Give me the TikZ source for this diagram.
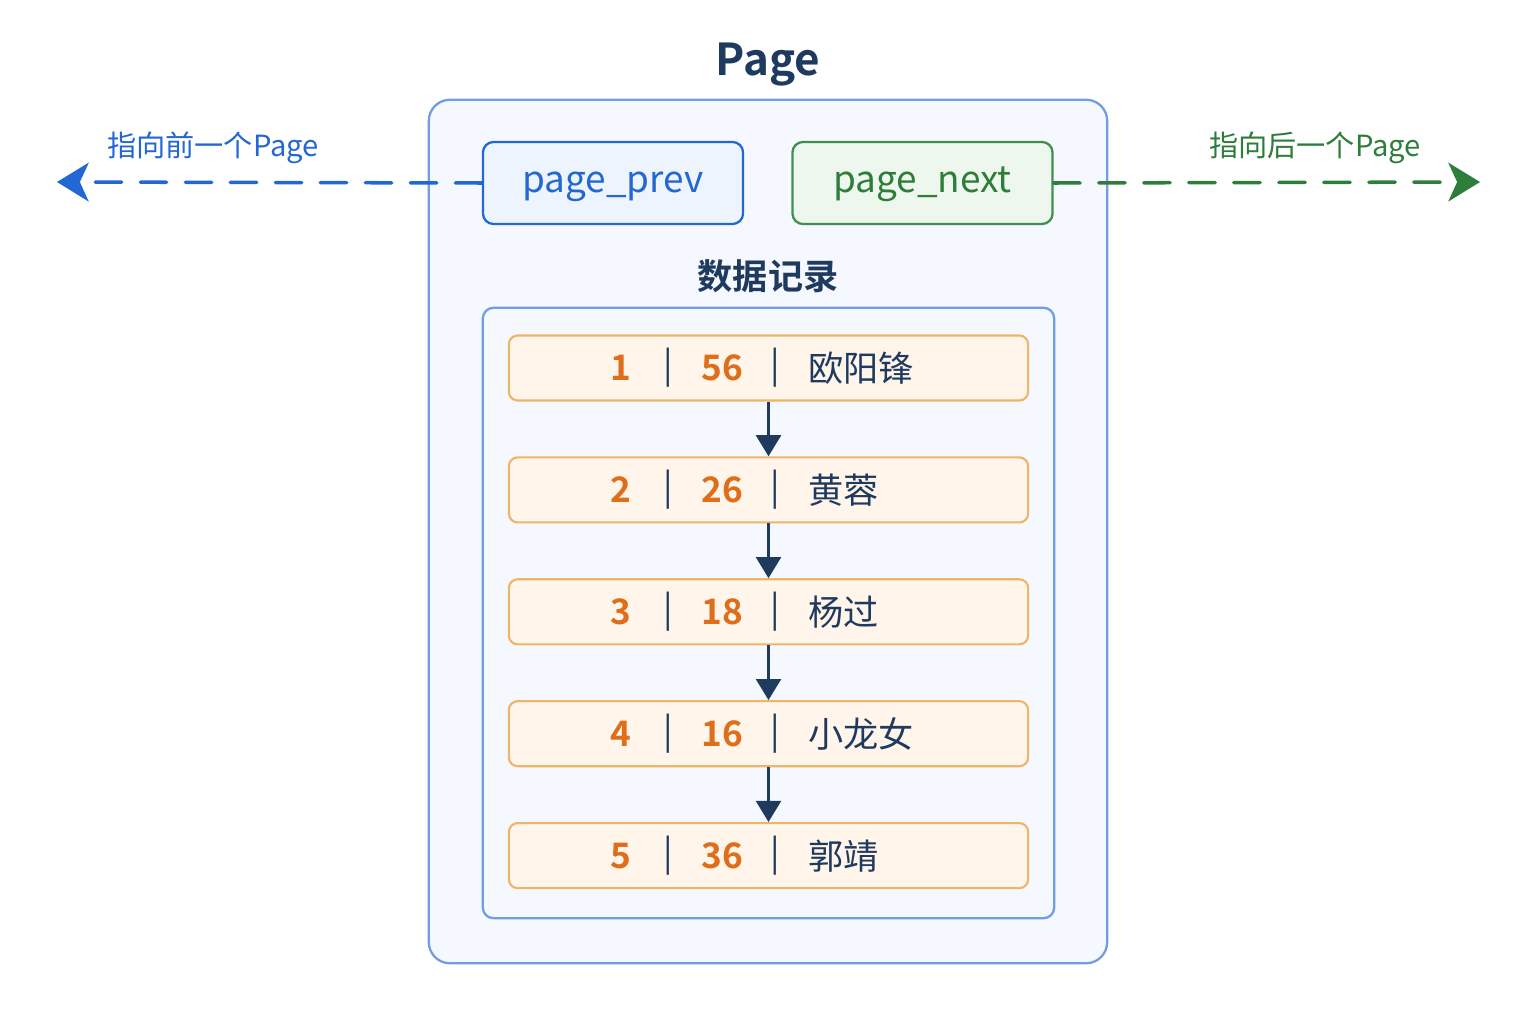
\documentclass[tikz,border=0pt]{standalone}
\usepackage{fontspec}
\setmainfont{Noto Sans CJK SC}[BoldFont={Noto Sans CJK SC Bold}]
\usetikzlibrary{arrows.meta}
\definecolor{navy}{HTML}{1F3A5F}
\definecolor{pageline}{HTML}{729DE0}
\definecolor{pagefill}{HTML}{F5F8FE}
\definecolor{prevblue}{HTML}{2368D2}
\definecolor{prevfill}{HTML}{EEF4FD}
\definecolor{nextgreen}{HTML}{2E7D3A}
\definecolor{nextline}{HTML}{3F8F4F}
\definecolor{nextfill}{HTML}{EEF7EE}
\definecolor{rowline}{HTML}{F0B466}
\definecolor{rowfill}{HTML}{FFF5EA}
\definecolor{numorange}{HTML}{DE6E1A}

\begin{document}
\begin{tikzpicture}[x=0.01cm,y=-0.01cm,
  pagebox/.style={draw=pageline,fill=pagefill,line width=0.65pt,rounded corners=3pt},
  ptrbox/.style={line width=0.65pt,rounded corners=3pt,minimum width=2.6cm,minimum height=0.82cm,text height=1ex,text depth=0pt,font=\fontsize{10.5}{12}\selectfont},
  rowbox/.style={draw=rowline,fill=rowfill,line width=0.6pt,rounded corners=2.5pt,minimum width=5.19cm,minimum height=0.65cm},
  numtxt/.style={text=numorange,font=\bfseries\fontsize{10}{12}\selectfont},
  bartxt/.style={text=navy,font=\fontsize{10}{12}\selectfont},
  nametxt/.style={text=navy,anchor=west,font=\fontsize{10}{12}\selectfont},
  flow/.style={navy,line width=1pt,-{Triangle[width=7pt,length=6pt]}},
  linkarrow/.style={line width=1pt,line cap=round,dash pattern=on 7.5pt off 5.3pt,-{Stealth[width=11pt,length=9pt,inset=2.5pt]}}]
\useasboundingbox (0,0) rectangle (1536,1024);

% the page and its title
\node[text=navy,font=\bfseries\fontsize{12.5}{14}\selectfont] (title) at (768,65) {Page};
\node[pagebox,rounded corners=6pt,minimum width=6.78cm,minimum height=8.63cm] (page) at (768,531.5) {};

% pointers to the neighbour pages
\node[ptrbox,draw=prevblue,fill=prevfill,text=prevblue] (prev) at (613,183) {page\_prev};
\node[ptrbox,draw=nextline,fill=nextfill,text=nextgreen] (next) at (922.5,183) {page\_next};
\coordinate (prevend) at (57,182);
\coordinate (nextend) at (1480,182);
\draw[linkarrow,prevblue] (prev.west) -- (prevend);
\draw[linkarrow,nextgreen] (next.east) -- (nextend);
\node[text=prevblue,font=\fontsize{8.3}{10}\selectfont] (prevlabel) at (213,148) {指向前一个Page};
\node[text=nextgreen,font=\fontsize{8.3}{10}\selectfont] (nextlabel) at (1315,148) {指向后一个Page};

% the records
\node[text=navy,font=\bfseries\fontsize{10}{12}\selectfont] (datatitle) at (768,276) {数据记录};
\node[pagebox,minimum width=5.71cm,minimum height=6.1cm] (data) at (768.5,613) {};
\foreach \i/\age/\who in {1/56/欧阳锋,2/26/黄蓉,3/18/杨过,4/16/小龙女,5/36/郭靖}{
  \pgfmathsetmacro{\ry}{368+(\i-1)*121.9}
  \node[rowbox] (row\i) at (768.5,\ry) {};
  \node[numtxt] (id\i) at (621,\ry) {\i};
  \node[bartxt] (bara\i) at (668,\ry) {|};
  \node[numtxt] (age\i) at (722,\ry) {\age};
  \node[bartxt] (barb\i) at (775,\ry) {|};
  \node[nametxt] (name\i) at (796,\ry) {\who};
}
\foreach \i [evaluate=\i as \j using int(\i+1)] in {1,...,4}
  \draw[flow] (row\i.south) -- (row\j.north);
\end{tikzpicture}
\end{document}
